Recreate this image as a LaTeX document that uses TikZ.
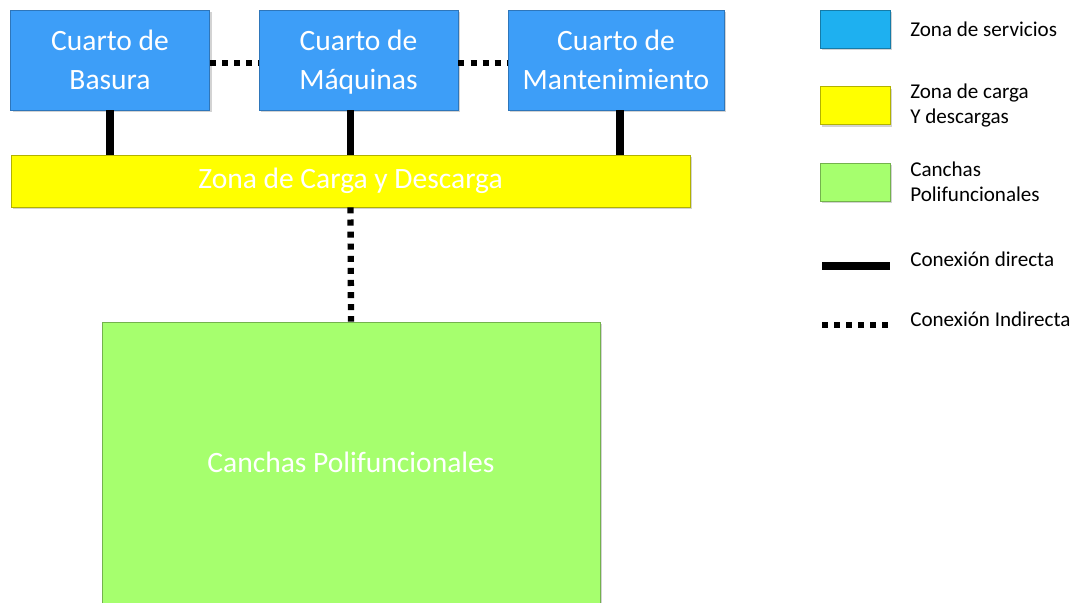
\documentclass[tikz,border=0pt]{standalone}
\usepackage{fontspec}
\setmainfont{Carlito}
\usetikzlibrary{shadows}
\definecolor{ZonaBlue}{HTML}{3D9EF8}
\definecolor{LeyBlue}{HTML}{1EB0F0}
\definecolor{ZonaYellow}{HTML}{FFFF00}
\definecolor{ZonaGreen}{HTML}{A6FF6E}

\tikzset{
  cuarto/.style={draw=ZonaBlue!75!black,line width=0.6pt,fill=ZonaBlue,text=white,align=center,
    minimum height=2.5cm,inner sep=0pt,font=\fontsize{21}{28}\selectfont,
    drop shadow={shadow xshift=1.5pt,shadow yshift=-1.5pt,opacity=0.35}},
  zona/.style={draw=#1!70!black,line width=0.6pt,fill=#1,text=white,align=center,inner sep=0pt,
    font=\fontsize{21}{28}\selectfont,
    drop shadow={shadow xshift=1.5pt,shadow yshift=-1.5pt,opacity=0.35}},
  leybox/.style={zona=#1,minimum width=1.75cm,minimum height=0.95cm},
  leytext/.style={anchor=west,align=left,inner sep=0pt,font=\fontsize{15}{17.5}\selectfont},
  directa/.style={line width=5pt,black},
  indirecta/.style={line width=4.5pt,black,dash pattern=on 4.3pt off 4.3pt}
}

\begin{document}
\begin{tikzpicture}
  \useasboundingbox (0,0) rectangle (26.9,15.075);
  % service rooms
  \node[cuarto,minimum width=4.975cm] (basura) at (2.75,13.575) {Cuarto de\\Basura};
  \node[cuarto,minimum width=4.975cm] (maquinas) at (8.9625,13.575) {Cuarto de\\\smash{Máquinas}};
  \node[cuarto,minimum width=5.4cm] (mant) at (15.4,13.575) {Cuarto de\\Mantenimiento};
  % loading zone and courts
  \node[zona=ZonaYellow,minimum width=16.975cm,minimum height=1.3cm] (carga) at (8.7625,10.55) {Zona de Carga y Descarga};
  \node[zona=ZonaGreen,minimum width=12.45cm,minimum height=7.025cm] (canchas) at (8.775,3.5125) {Canchas Polifuncionales};
  % connections
  \draw[directa] (basura.south) -- (basura.south |- carga.north);
  \draw[directa] (carga.north |- maquinas.south) -- (carga.north);
  \draw[directa] ([xshift=0.1cm]mant.south) -- ([xshift=0.1cm]mant.south |- carga.north);
  \draw[indirecta] ([yshift=-0.08cm]basura.east) -- ([yshift=-0.08cm]maquinas.west);
  \draw[indirecta] ([yshift=-0.08cm]maquinas.east) -- ([yshift=-0.08cm]mant.west);
  \draw[indirecta] (carga.south) -- (canchas.north);
  % legend
  \node[leybox=LeyBlue] (leyserv) at (21.375,14.35) {};
  \node[leybox=ZonaYellow] (leycarga) at (21.375,12.4375) {};
  \node[leybox=ZonaGreen] (leycancha) at (21.375,10.525) {};
  \node[leytext] (tserv) at (22.75,14.35) {Zona de servicios};
  \node[leytext] (tcarga) at (22.75,12.4375) {Zona de carga\\Y descargas};
  \node[leytext] (tcancha) at (22.75,10.525) {Canchas\\Polifuncionales};
  \coordinate (dirA) at (20.55,8.425);
  \coordinate (dirB) at (22.25,8.425);
  \coordinate (indA) at (20.55,6.95);
  \coordinate (indB) at (22.2,6.95);
  \draw[directa] (dirA) -- (dirB);
  \draw[indirecta] (indA) -- (indB);
  \node[leytext] (tdir) at (22.75,8.6) {Conexión directa};
  \node[leytext] (tind) at (22.75,7.1) {Conexión Indirecta};
\end{tikzpicture}
\end{document}
